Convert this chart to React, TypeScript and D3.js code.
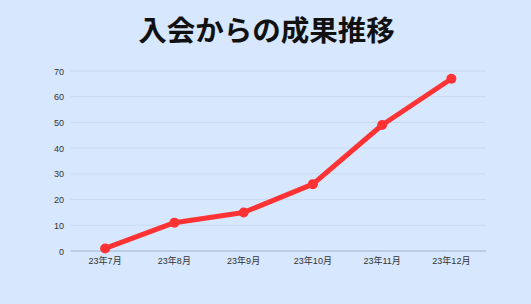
import React from "react";
import * as d3 from "d3";

const categories = ["23年7月", "23年8月", "23年9月", "23年10月", "23年11月", "23年12月"];
const values = [1, 11, 15, 26, 49, 67];
const yTicks = [0, 10, 20, 30, 40, 50, 60, 70];
const title = "入会からの成果推移";

const W = 531, H = 304;
const M = { left: 70.5, right: 486, top: 71, bottom: 251 };

export default function App() {
  const x = d3.scalePoint<string>().domain(categories).range([M.left, M.right]).padding(0.5);
  const y = d3.scaleLinear().domain([0, 70]).range([M.bottom, M.top]);
  const line = d3.line<number>().x((_, i) => x(categories[i])!).y((d) => y(d));
  const font = "'Liberation Sans', 'Noto Sans CJK JP', sans-serif";
  return (
    <svg width={W} height={H} style={{ position: "absolute", left: 0, top: 0 }} fontFamily={font}>
      <rect width={W} height={H} fill="#d7e7fe" />
      <text x={W / 2 + 1} y={41} textAnchor="middle" fontSize={28.5} fontWeight="bold" fill="#111" fontFamily="'Noto Sans CJK JP', sans-serif">{title}</text>
      {yTicks.map((t) => (
        <g key={t}>
          <line x1={M.left} x2={M.right} y1={y(t)} y2={y(t)} stroke={t === 0 ? "#bccde6" : "#c8d9f1"} strokeWidth={t === 0 ? 2 : 1} />
          <text x={64} y={y(t) + 3.5} textAnchor="end" fontSize={9} fill="#333">{t}</text>
        </g>
      ))}
      {categories.map((c) => (
        <text key={c} x={x(c)!} y={264} textAnchor="middle" fontSize={9} fill="#333">{c}</text>
      ))}
      <path d={line(values)!} fill="none" stroke="#ff3333" strokeWidth={5} strokeLinejoin="round" />
      {values.map((v, i) => (
        <circle key={i} cx={x(categories[i])!} cy={y(v)} r={5} fill="#ff3333" />
      ))}
    </svg>
  );
}
